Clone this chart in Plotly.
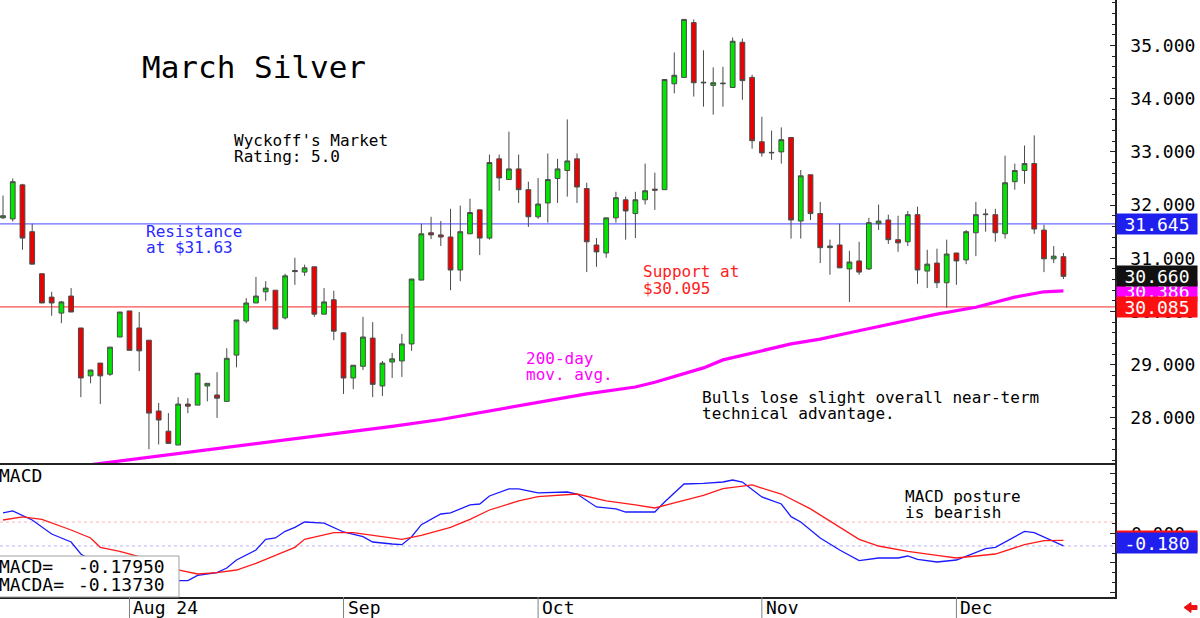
import pandas as pd
import plotly.graph_objects as go
from decimal import Decimal, ROUND_HALF_UP

# ---------------- data ----------------
holidays = ["2024-09-02", "2024-11-28"]
dates = [d for d in pd.bdate_range("2024-07-15", "2024-12-17") if d.strftime("%Y-%m-%d") not in holidays]

opens = [31.76, 31.74, 32.38, 31.50, 30.71, 30.27, 29.97, 30.29, 29.69, 28.79,
         29.03, 28.82, 29.52, 30.01, 29.69, 29.46, 28.13, 27.75, 27.49, 28.26,
         28.24, 28.60, 28.43, 28.31, 29.18, 29.82, 30.16, 30.37, 30.40, 29.88,
         30.77, 30.74, 30.84, 29.95, 30.22, 29.60, 28.75, 28.97, 29.50, 28.60,
         29.05, 29.07, 29.39, 30.59, 31.48, 31.44, 31.40, 30.78, 31.46, 31.91,
         31.38, 32.87, 32.48, 32.68, 32.29, 31.78, 32.04, 32.50, 32.65, 32.87,
         32.31, 31.25, 31.10, 31.76, 32.10, 31.84, 32.10, 32.30, 32.29, 34.28,
         34.40, 35.43, 34.31, 34.25, 34.28, 34.21, 35.06, 34.40, 33.19, 32.98,
         33.00, 33.27, 31.70, 32.57, 31.84, 31.20, 31.25, 30.80, 30.95, 30.80,
         31.65, 31.72, 31.35, 31.31, 31.82, 30.76, 30.91, 30.54, 31.10, 30.97,
         31.48, 31.82, 31.82, 31.46, 32.44, 32.65, 32.78, 31.53, 30.99, 31.03]
highs = [32.18, 32.50, 32.40, 31.65, 30.71, 30.37, 30.20, 30.44, 29.69, 28.90,
         29.03, 29.33, 29.99, 30.01, 29.99, 29.46, 28.28, 28.09, 28.39, 28.37,
         28.84, 28.65, 28.86, 29.31, 29.84, 30.25, 30.65, 30.57, 30.40, 30.71,
         31.01, 30.88, 30.84, 30.44, 30.39, 29.60, 28.99, 29.90, 29.80, 29.07,
         29.22, 29.58, 30.61, 31.65, 31.78, 31.70, 31.93, 31.99, 32.12, 31.91,
         32.95, 32.95, 33.38, 32.95, 32.44, 32.51, 32.97, 32.87, 33.61, 32.97,
         32.42, 31.38, 31.76, 32.25, 32.16, 32.25, 32.78, 32.61, 34.36, 34.87,
         35.49, 35.49, 34.91, 34.59, 34.60, 35.15, 35.13, 34.45, 33.66, 33.40,
         33.46, 33.27, 32.66, 32.57, 32.06, 31.35, 31.65, 31.14, 31.31, 31.76,
         32.01, 31.82, 31.80, 31.89, 31.97, 31.16, 31.18, 31.35, 31.10, 31.53,
         32.06, 31.93, 31.93, 32.93, 32.78, 33.12, 33.31, 31.63, 31.23, 31.10]
lows = [31.74, 31.69, 31.16, 30.89, 30.16, 29.92, 29.78, 29.99, 28.39, 28.65,
        28.26, 28.79, 29.52, 29.27, 28.88, 27.41, 27.50, 27.52, 27.49, 28.09,
        28.24, 28.31, 28.00, 28.31, 28.95, 29.78, 30.16, 30.20, 29.67, 29.85,
        30.50, 30.67, 29.90, 29.95, 29.46, 28.45, 28.54, 28.90, 28.39, 28.41,
        28.75, 28.77, 29.26, 30.59, 31.36, 31.23, 30.40, 30.57, 31.46, 31.06,
        31.35, 32.27, 32.48, 32.04, 31.59, 31.74, 31.67, 32.04, 32.16, 32.04,
        30.74, 30.84, 31.01, 31.67, 31.35, 31.38, 32.01, 31.91, 32.29, 34.10,
        34.40, 34.04, 33.85, 33.70, 33.85, 34.21, 33.98, 33.06, 32.91, 32.85,
        32.78, 31.37, 31.37, 31.72, 30.91, 30.69, 30.82, 30.18, 30.69, 30.78,
        31.53, 31.27, 31.12, 31.23, 30.52, 30.44, 30.44, 30.07, 30.50, 30.89,
        31.04, 31.50, 31.31, 31.37, 32.29, 32.40, 31.46, 30.74, 30.91, 30.61]
closes = [31.80, 32.44, 31.38, 30.89, 30.16, 30.16, 30.18, 29.99, 28.75, 28.90,
          28.79, 29.33, 29.99, 29.27, 29.26, 28.09, 27.96, 27.52, 28.26, 28.22,
          28.84, 28.65, 28.37, 29.12, 29.84, 30.16, 30.29, 30.44, 29.67, 30.67,
          30.75, 30.82, 29.95, 30.18, 29.63, 28.75, 28.99, 29.52, 28.63, 29.03,
          29.11, 29.39, 30.61, 31.46, 31.44, 31.40, 30.78, 31.50, 31.86, 31.38,
          32.80, 32.51, 32.68, 32.29, 31.78, 32.02, 32.48, 32.68, 32.83, 32.34,
          31.31, 31.12, 31.76, 32.14, 31.89, 32.10, 32.27, 32.28, 34.36, 34.44,
          35.49, 34.30, 34.30, 34.30, 34.29, 35.08, 34.34, 33.21, 32.98, 32.99,
          33.23, 31.72, 32.55, 31.84, 31.20, 31.23, 30.82, 30.93, 30.74, 31.67,
          31.70, 31.35, 31.29, 31.82, 30.78, 30.89, 30.54, 31.08, 30.95, 31.50,
          31.82, 31.83, 31.48, 32.42, 32.65, 32.78, 31.55, 30.99, 31.04, 30.66]

# 200-day moving average (read at sampled bars)
ma_idx = [9, 15, 20, 25, 30, 35, 40, 45, 50, 55, 60, 65, 67, 72, 74, 81, 84, 87, 91, 96, 100, 104, 107, 109]
ma_val = [27.12, 27.26, 27.37, 27.48, 27.61, 27.72, 27.84, 27.97, 28.13, 28.28, 28.45, 28.58, 28.67,
          28.94, 29.09, 29.39, 29.48, 29.60, 29.76, 29.95, 30.08, 30.27, 30.37, 30.386]

# MACD (blue) and MACDA (red), read at sampled bars
macd_idx = [0, 1, 3, 4, 5, 7, 8, 10, 12, 14, 16, 18, 19, 20, 22, 23, 24, 26, 27, 28, 29, 30, 31, 33,
            35, 37, 38, 40, 41, 42, 43, 45, 46, 48, 49, 50, 52, 53, 55, 58, 59, 61, 63, 64, 67, 68,
            70, 72, 74, 75, 76, 78, 80, 81, 82, 84, 86, 88, 90, 92, 93, 94, 96, 98, 101, 102, 105,
            106, 109]
macd_val = [0.068, 0.083, 0.015, -0.037, -0.09, -0.15, -0.24, -0.33, -0.38, -0.41, -0.43, -0.44,
            -0.44, -0.40, -0.38, -0.345, -0.285, -0.21, -0.13, -0.12, -0.07, -0.04, 0.0, -0.008,
            -0.075, -0.11, -0.15, -0.165, -0.17, -0.11, -0.02, 0.06, 0.068, 0.128, 0.135, 0.195,
            0.248, 0.248, 0.218, 0.225, 0.21, 0.113, 0.098, 0.075, 0.075, 0.15, 0.285, 0.29, 0.30,
            0.315, 0.30, 0.188, 0.135, 0.04, 0.0, -0.12, -0.21, -0.29, -0.27, -0.27, -0.255, -0.28,
            -0.30, -0.285, -0.20, -0.19, -0.07, -0.08, -0.1795]
macda_idx = [0, 2, 4, 7, 9, 10, 12, 14, 16, 18, 20, 22, 24, 26, 28, 30, 31, 33, 34, 36, 38, 41, 43,
             46, 48, 50, 53, 55, 59, 62, 65, 67, 69, 72, 74, 77, 78, 80, 83, 86, 88, 90, 93, 96, 98,
             102, 105, 107, 109]
macda_val = [0.015, 0.038, 0.02, -0.06, -0.12, -0.19, -0.22, -0.26, -0.31, -0.36, -0.39, -0.38,
             -0.36, -0.31, -0.25, -0.19, -0.13, -0.10, -0.08, -0.08, -0.10, -0.13, -0.10, -0.04,
             0.02, 0.09, 0.158, 0.19, 0.21, 0.158, 0.128, 0.105, 0.143, 0.20, 0.25, 0.278, 0.255,
             0.21, 0.098, -0.04, -0.13, -0.18, -0.22, -0.25, -0.27, -0.24, -0.17, -0.14, -0.1373]

resistance = 31.645
support = 30.085
month_labels = ["Aug 24", "Sep", "Oct", "Nov", "Dec"]

# ---------------- layout helpers ----------------
W_PLOT = 1115.0
H_PLOT = 597.0
SPLIT = 463.0
MONO = "DejaVu Sans Mono"


def px(x):
    return x / W_PLOT


def py(y):
    return 1 - y / H_PLOT


def fmt(v, places):
    q = Decimal(1).scaleb(-places)
    return str(Decimal(str(v)).quantize(q, rounding=ROUND_HALF_UP))


x = list(range(len(dates)))
month_starts = [i for i in range(len(dates)) if i > 0 and dates[i].month != dates[i - 1].month]

fig = go.Figure()

fig.add_trace(go.Candlestick(
    x=x, open=opens, high=highs, low=lows, close=closes,
    increasing=dict(fillcolor="#00e600", line=dict(color="#4a4a4a", width=1)),
    decreasing=dict(fillcolor="#ee0000", line=dict(color="#4a4a4a", width=1)),
    whiskerwidth=0, xaxis="x", yaxis="y", showlegend=False))

fig.add_trace(go.Scatter(x=ma_idx, y=ma_val, mode="lines",
                         line=dict(color="#ff00ff", width=3.2), xaxis="x", yaxis="y",
                         showlegend=False))

fig.add_trace(go.Scatter(x=macd_idx, y=macd_val, mode="lines",
                         line=dict(color="#1a1aff", width=1.3), xaxis="x2", yaxis="y2",
                         showlegend=False))
fig.add_trace(go.Scatter(x=macda_idx, y=macda_val, mode="lines",
                         line=dict(color="#ff1a1a", width=1.3), xaxis="x2", yaxis="y2",
                         showlegend=False))


def arrow_path():
    pts = [(1184, 607.5), (1191, 602.5), (1191, 605.5), (1197, 605.5),
           (1197, 609.5), (1191, 609.5), (1191, 612.5)]
    return "M " + " L ".join(f"{px(a):.5f},{py(b):.5f}" for a, b in pts) + " Z"


shapes = [
    dict(type="line", xref="paper", yref="y", x0=0, x1=1, y0=resistance, y1=resistance,
         line=dict(color="#6a6aff", width=1.2), layer="below"),
    dict(type="line", xref="paper", yref="y", x0=0, x1=1, y0=support, y1=support,
         line=dict(color="#ff5050", width=1.2), layer="below"),
    dict(type="line", xref="paper", yref="y2", x0=0, x1=1, y0=0, y1=0,
         line=dict(color="#ffb4b4", width=1, dash="dot"), layer="below"),
    dict(type="line", xref="paper", yref="y2", x0=0, x1=1, y0=macd_val[-1], y1=macd_val[-1],
         line=dict(color="#b4b4ff", width=1, dash="dot"), layer="below"),
    dict(type="rect", xref="paper", yref="paper", x0=-0.002, x1=px(179), y0=py(597), y1=py(556),
         line=dict(color="#a0a0a0", width=1), fillcolor="white", layer="above"),
    dict(type="path", xref="paper", yref="paper", path=arrow_path(),
         fillcolor="#ee1111", line=dict(color="#ee1111", width=1)),
]
for ms in month_starts:
    shapes.append(dict(type="line", xref="x2", yref="paper", x0=ms, x1=ms, y0=py(H_PLOT), y1=py(618),
                       line=dict(color="#808080", width=1)))

annotations = []


def ann(text, xpx, ypx, color="black", size=16, family=MONO):
    annotations.append(dict(text=text, x=px(xpx), y=py(ypx),
                            xref="paper", yref="paper", xanchor="left", yanchor="middle",
                            showarrow=False, font=dict(family=family, size=size, color=color)))


ann("March Silver", 140, 67, size=31)
ann("Wyckoff's Market", 232, 140)
ann("Rating: 5.0", 232, 156)
ann("Resistance", 144, 231, color="#2a2aff")
ann("at $31.63", 144, 247, color="#2a2aff")
ann("Support at", 641, 271, color="#ff2020")
ann("$30.095", 641, 288, color="#ff2020")
ann("200-day", 524, 358, color="#ff00ff")
ann("mov. avg.", 524, 374, color="#ff00ff")
ann("Bulls lose slight overall near-term", 700, 397)
ann("technical advantage.", 700, 413)
ann("MACD posture", 903, 496)
ann("is bearish", 903, 512)
ann("MACD", -3, 475, size=18)
ann("MACD=", -3, 566, size=18)
ann("MACDA=", -3, 584, size=18)
ann(fmt(macd_val[-1], 5), 76, 566, size=18)
ann(fmt(macda_val[-1], 5), 76, 584, size=18)

for ms, lab in zip(month_starts, month_labels):
    annotations.append(dict(text=lab, x=ms, y=py(607.5), xref="x2", yref="paper", xanchor="left",
                            xshift=2, yanchor="middle", showarrow=False,
                            font=dict(family=MONO, size=18, color="black")))


# right-hand value boxes
def value_box(val, yref, bg, shift=0):
    annotations.append(dict(text=fmt(val, 3), x=1.0, xshift=1, y=val, yshift=shift,
                            xref="paper", yref=yref, xanchor="left", yanchor="middle",
                            showarrow=False, bgcolor=bg, width=80, height=20, borderpad=0,
                            align="center", font=dict(family=MONO, size=18, color="white")))


value_box(resistance, "y", "#2020ee")
value_box(ma_val[-1], "y", "#ff00ff")
value_box(closes[-1], "y", "#111111")
value_box(support, "y", "#ff1010")
annotations.append(dict(text="0.000", x=1.0, xshift=1, y=0, yshift=-11, xref="paper", yref="y2",
                        xanchor="left", yanchor="middle", showarrow=False, width=80, height=19,
                        align="center", font=dict(family=MONO, size=18, color="black")))
value_box(macda_val[-1], "y2", "#ff1010", shift=-1)
value_box(macd_val[-1], "y2", "#2020ee", shift=3)

split_frac = 1 - SPLIT / H_PLOT

fig.update_layout(
    width=1200, height=618,
    margin=dict(l=0, r=85, t=0, b=21),
    paper_bgcolor="white", plot_bgcolor="white",
    showlegend=False,
    shapes=shapes, annotations=annotations,
    xaxis=dict(domain=[0, 1], anchor="y", range=[-0.31, 114.3], showticklabels=False,
               showgrid=False, zeroline=False, showline=True, linecolor="#222222", linewidth=1.5,
               rangeslider=dict(visible=False), ticks=""),
    xaxis2=dict(domain=[0, 1], anchor="y2", matches="x", showticklabels=False, showgrid=False,
                zeroline=False, showline=True, linecolor="#222222", linewidth=1.5, ticks=""),
    yaxis=dict(domain=[split_frac, 1], anchor="x", side="right", range=[27.152, 35.855],
               showgrid=False, zeroline=False, showline=True, linecolor="#222222", linewidth=1.5,
               tickmode="linear", tick0=28, dtick=1, tickformat=".3f",
               ticks="inside", ticklen=5, tickcolor="#222222", ticklabelstandoff=10,
               tickfont=dict(family=MONO, size=18, color="black"),
               minor=dict(dtick=0.2, tick0=28, ticks="inside", ticklen=3, tickcolor="#222222")),
    yaxis2=dict(domain=[0, split_frac], anchor="x2", side="right", range=[-0.5626, 0.4426],
                showgrid=False, zeroline=False, showline=True, linecolor="#222222", linewidth=1.5,
                showticklabels=False, tickmode="linear", tick0=-0.0825, dtick=0.225,
                ticks="inside", ticklen=5, tickcolor="#222222",
                minor=dict(dtick=0.075, tick0=-0.0825, ticks="inside", ticklen=3,
                           tickcolor="#222222")),
)

fig.write_html("out.html")
